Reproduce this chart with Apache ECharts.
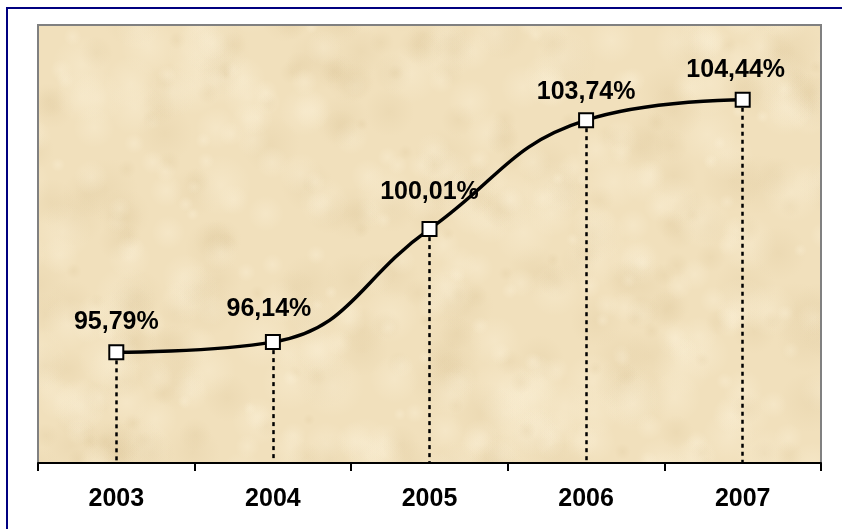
<!DOCTYPE html>
<html>
<head>
<meta charset="utf-8">
<script src="https://cdn.jsdelivr.net/npm/echarts@6/dist/echarts.min.js"></script>
<style>
  html, body { margin: 0; padding: 0; background: #ffffff; }
  #frame { position: absolute; left: 6px; top: 7px; width: 900px; height: 600px;
           border-left: 2px solid #000080; border-top: 2px solid #000080; box-sizing: border-box; }
  #chart { position: absolute; left: 0; top: 0; width: 842px; height: 529px; }
</style>
</head>
<body>
<div id="frame"></div>
<div id="chart"></div>
<script>
const categories = ['2003', '2004', '2005', '2006', '2007'];
const values = [95.79, 96.14, 100.01, 103.74, 104.44];
const labelTexts = ['95,79%', '96,14%', '100,01%', '103,74%', '104,44%'];
const yMin = 92;
const yMax = 107;

// decorative parchment texture (deterministic, subtle)
function makeTexture() {
  const W = 842, H = 529;
  const c = document.createElement('canvas');
  c.width = W; c.height = H;
  const g = c.getContext('2d');
  g.fillStyle = '#F1E0BC';
  g.fillRect(0, 0, W, H);
  let s = 98765;
  const rnd = () => { s = (s * 16807) % 2147483647; return s / 2147483647; };
  for (let i = 0; i < 700; i++) {
    const x = rnd() * W, y = rnd() * H, r = 6 + rnd() * 26;
    const dark = rnd() < 0.45;
    const col = dark ? '214,190,142' : '252,242,218';
    const a = dark ? 0.18 : 0.35;
    const grad = g.createRadialGradient(x, y, 0, x, y, r);
    grad.addColorStop(0, 'rgba(' + col + ',' + a + ')');
    grad.addColorStop(1, 'rgba(' + col + ',0)');
    g.fillStyle = grad;
    g.fillRect(x - r, y - r, 2 * r, 2 * r);
  }
  return c;
}

const labelOffsets = [[0, 0], [-4, -3], [0, -6], [0, 2], [-7, 1]];

const chart = echarts.init(document.getElementById('chart'), null, { renderer: 'canvas' });
chart.setOption({
  animation: false,
  grid: {
    left: 38, top: 25, right: 21, bottom: 66,
    show: true,
    backgroundColor: { image: makeTexture(), repeat: 'no-repeat' },
    borderColor: '#808080', borderWidth: 2
  },
  xAxis: {
    type: 'category',
    data: categories,
    boundaryGap: true,
    axisLine: { show: true, lineStyle: { color: '#000', width: 2 } },
    axisTick: { show: true, length: 8, lineStyle: { color: '#000', width: 2 } },
    axisLabel: { color: '#000', fontFamily: 'Liberation Sans, Arial, sans-serif', fontWeight: 'bold', fontSize: 25, margin: 24 },
    splitLine: { show: false }
  },
  yAxis: {
    type: 'value', min: yMin, max: yMax, show: false,
    splitLine: { show: false }
  },
  series: [{
    name: 'drop',
    type: 'line',
    data: values,
    symbol: 'none',
    lineStyle: { opacity: 0 },
    silent: true,
    z: 1,
    markLine: {
      silent: true,
      symbol: 'none',
      label: { show: false },
      lineStyle: { color: '#000', width: 2.5, type: [4, 4] },
      data: values.map((v, i) => [
        { xAxis: i, yAxis: v },
        { xAxis: i, yAxis: yMin }
      ])
    }
  }, {
    name: 'value',
    type: 'line',
    data: values.map((v, i) => ({
      value: v,
      label: { offset: labelOffsets[i] }
    })),
    smooth: 0.45,
    symbol: 'rect',
    symbolSize: 14,
    itemStyle: { color: '#ffffff', borderColor: '#000', borderWidth: 2 },
    lineStyle: { color: '#000', width: 3.5 },
    label: {
      show: true, position: 'top', distance: 10,
      color: '#000', fontFamily: 'Liberation Sans, Arial, sans-serif', fontWeight: 'bold', fontSize: 25,
      formatter: p => labelTexts[p.dataIndex]
    },
    z: 5
  }]
});
</script>
</body>
</html>
